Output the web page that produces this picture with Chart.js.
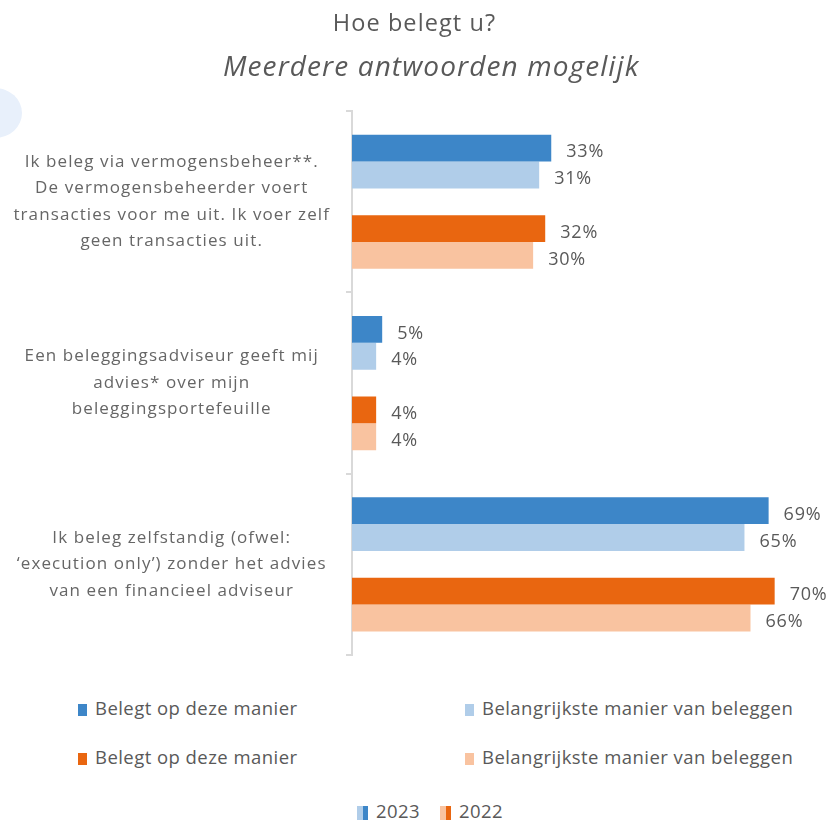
<!DOCTYPE html>
<html>
<head>
<meta charset="utf-8">
<script src="https://cdn.jsdelivr.net/npm/chart.js@4.4.1/dist/chart.umd.min.js"></script>
<style>
  body { margin: 0; background: #fff; font-family: "Open Sans", sans-serif; }
  #wrap { position: relative; width: 833px; height: 822px; overflow: hidden; }
  #chart { position: absolute; left: 0; top: 0; }
  .blob { position: absolute; left: -32px; top: 88px; width: 54px; height: 50px; border-radius: 50%; background: #e8f0fb; }
  .lg { position: absolute; font-size: 18.5px; letter-spacing: 0.45px; color: #595959; line-height: 22px; white-space: nowrap; }
  .lg i { display: inline-block; width: 9px; height: 12px; margin-right: 8px; vertical-align: -1px; }
  .yr i { display: inline-block; width: 11px; height: 14px; margin-right: 8px; vertical-align: -2px; }
</style>
</head>
<body>
<div id="wrap">
  <div class="blob"></div>
  <canvas id="chart" width="833" height="680"></canvas>
  <div id="legend"></div>
</div>
<script>
// categories (y axis labels, one array per line group)
var categories = [
    ['Ik beleg via vermogensbeheer**.', 'De vermogensbeheerder voert', 'transacties voor me uit. Ik voer zelf', 'geen transacties uit.'],
    ['Een beleggingsadviseur geeft mij', 'advies* over mijn', 'beleggingsportefeuille'],
    ['Ik beleg zelfstandig (ofwel:', '\u2018execution only\u2019) zonder het advies', 'van een financieel adviseur']
];

var belegt2023 = [33, 5, 69];
var belangrijk2023 = [31, 4, 65];
var belegt2022 = [32, 4, 70];
var belangrijk2022 = [30, 4, 66];

var seriesNames = ['Belegt op deze manier', 'Belangrijkste manier van beleggen'];
var years = ['2023', '2022'];

var blue = 'rgb(61,134,200)';
var lightBlue = 'rgb(176,205,233)';
var orange = 'rgb(233,102,16)';
var peach = 'rgb(249,195,160)';

// wider letter spacing for the texts on the canvas (also while measuring)
var spacing = {
    id: 'spacing',
    beforeLayout: function(chart) { chart.ctx.letterSpacing = '1.1px'; },
    beforeDraw: function(chart) { chart.ctx.letterSpacing = '1.1px'; },
    afterDraw: function(chart) { chart.ctx.letterSpacing = '0px'; }
};

// draws the "33%" labels to the right of each bar
var valueLabels = {
    id: 'valueLabels',
    afterDatasetsDraw: function(chart) {
        var ctx = chart.ctx;
        ctx.save();
        ctx.letterSpacing = '0.8px';
        ctx.font = '18px "Open Sans"';
        ctx.fillStyle = '#595959';
        ctx.textBaseline = 'middle';
        ctx.textAlign = 'left';
        chart.data.datasets.forEach(function(ds, i) {
            if (ds.spacer) return;
            chart.getDatasetMeta(i).data.forEach(function(bar, j) {
                ctx.fillText(ds.data[j] + '%', bar.x + 15, bar.y + 4);
            });
        });
        ctx.restore();
    }
};

var ctx = document.getElementById('chart').getContext('2d');
var chart = new Chart(ctx, {
    type: 'bar',
    data: {
        labels: categories,
        datasets: [
            { label: seriesNames[0] + ' ' + years[0], data: belegt2023, backgroundColor: blue },
            { label: seriesNames[1] + ' ' + years[0], data: belangrijk2023, backgroundColor: lightBlue },
            { label: '', data: [null, null, null], spacer: true },
            { label: seriesNames[0] + ' ' + years[1], data: belegt2022, backgroundColor: orange },
            { label: seriesNames[1] + ' ' + years[1], data: belangrijk2022, backgroundColor: peach }
        ]
    },
    options: {
        indexAxis: 'y',
        responsive: false,
        animation: false,
        categoryPercentage: 0.74,
        barPercentage: 1.0,
        layout: { padding: { left: 0, right: 4, bottom: 25 } },
        scales: {
            x: { display: false, min: 0, max: 79 },
            y: {
                afterFit: function(scale) {
                    scale.width = 352;
                    scale.paddingTop = 0;
                    scale.paddingBottom = 0;
                },
                grid: { drawOnChartArea: false, tickLength: 6, color: '#d9d9d9', lineWidth: 2 },
                border: { color: '#d9d9d9', width: 2 },
                ticks: {
                    crossAlign: 'center',
                    padding: 16,
                    color: '#666666',
                    font: { family: 'Open Sans', size: 17, lineHeight: 1.56 }
                }
            }
        },
        plugins: {
            legend: { display: false },
            tooltip: { enabled: false },
            title: {
                display: true,
                text: 'Hoe belegt u?',
                color: '#595959',
                font: { family: 'Open Sans', size: 23.5, weight: 'normal', lineHeight: 1.3 },
                padding: { top: 9, bottom: 12 }
            },
            subtitle: {
                display: true,
                text: '    Meerdere antwoorden mogelijk',
                color: '#595959',
                font: { family: 'Open Sans', size: 28, style: 'italic', lineHeight: 1.2 },
                padding: { top: 0, bottom: 26 }
            }
        }
    },
    plugins: [spacing, valueLabels]
});

// legend under the chart, 2x2 plus the year key
var legendRows = [
    { top: 697, items: [[blue, seriesNames[0], 78], [lightBlue, seriesNames[1], 465]] },
    { top: 746, items: [[orange, seriesNames[0], 78], [peach, seriesNames[1], 465]] }
];
var html = '';
legendRows.forEach(function(row) {
    row.items.forEach(function(it) {
        html += '<div class="lg" style="left:' + it[2] + 'px;top:' + row.top + 'px"><i style="background:' + it[0] + '"></i>' + it[1] + '</div>';
    });
});
html += '<div class="lg yr" style="left:357px;top:800px"><i style="background:linear-gradient(90deg,' + lightBlue + ' 50%,' + blue + ' 50%)"></i>' + years[0] + '</div>';
html += '<div class="lg yr" style="left:440px;top:800px"><i style="background:linear-gradient(90deg,' + peach + ' 50%,' + orange + ' 50%)"></i>' + years[1] + '</div>';
document.getElementById('legend').innerHTML = html;
</script>
</body>
</html>
